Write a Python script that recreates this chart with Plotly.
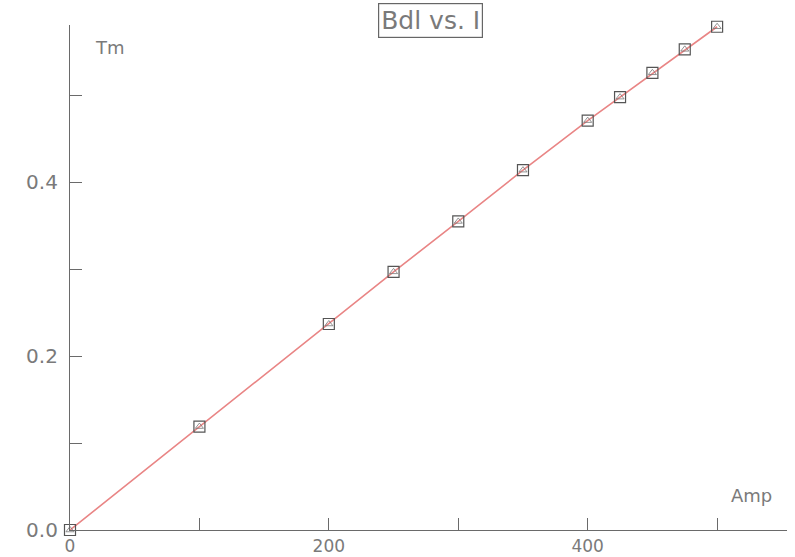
import plotly.graph_objects as go

current_amp = [0, 100, 200, 250, 300, 350, 400, 425, 450, 475, 500]
bdl_tm = [0.0, 0.119, 0.237, 0.297, 0.355, 0.414, 0.471, 0.498, 0.526, 0.553, 0.579]

title_text = "Bdl vs. I"
y_unit = "Tm"
x_unit = "Amp"

AX = "#6a6a6a"
TXT = "#7a7a7a"
FONT = "DejaVu Sans"

fig = go.Figure()
fig.add_trace(go.Scatter(
    x=current_amp, y=bdl_tm, mode="lines", cliponaxis=False,
    line=dict(color="#e98585", width=1.6), hoverinfo="skip", showlegend=False))
fig.add_trace(go.Scatter(
    x=current_amp, y=bdl_tm, mode="markers", cliponaxis=False,
    marker=dict(symbol="square-open", size=11, color="#555555", line=dict(width=1.2)),
    showlegend=False))
fig.add_trace(go.Scatter(
    x=current_amp, y=bdl_tm, mode="markers", cliponaxis=False,
    marker=dict(symbol="triangle-up-open", size=7, color="#777777", line=dict(width=0.8)),
    showlegend=False))

fig.update_layout(
    width=795, height=557,
    margin=dict(l=70, r=8, t=25, b=27),
    paper_bgcolor="white", plot_bgcolor="white",
    font=dict(family=FONT, color=TXT, size=18),
    xaxis=dict(range=[0, 554], showgrid=False, zeroline=False, automargin=False,
               showline=True, linecolor=AX, linewidth=1.2,
               tickmode="array", tickvals=[0, 200, 400], ticktext=["0", "200", "400"],
               ticks="inside", ticklen=12, tickcolor=AX, tickwidth=1,
               minor=dict(dtick=100, tick0=0, ticks="inside", ticklen=12, tickcolor=AX, tickwidth=1, showgrid=False),
               tickfont=dict(size=17, color=TXT, family=FONT), ticklabelstandoff=0),
    yaxis=dict(range=[0, 0.581], showgrid=False, zeroline=False, automargin=False,
               showline=True, linecolor=AX, linewidth=1.2,
               tickmode="array", tickvals=[0.0, 0.2, 0.4], ticktext=["0.0", "0.2", "0.4"],
               ticks="inside", ticklen=12, tickcolor=AX, tickwidth=1,
               minor=dict(dtick=0.1, tick0=0, ticks="inside", ticklen=12, tickcolor=AX, tickwidth=1, showgrid=False),
               tickfont=dict(size=20, color=TXT, family=FONT), ticklabelstandoff=7),
    annotations=[
        dict(text=title_text, xref="paper", yref="paper", x=0.503, y=1.008,
             xanchor="center", yanchor="middle", showarrow=False,
             font=dict(size=25, color=TXT, family=FONT),
             bordercolor="#666666", borderwidth=1.2, borderpad=2),
        dict(text=y_unit, xref="paper", yref="paper", x=(93 - 70) / 717, y=(530 - 47) / 505,
             xanchor="left", yanchor="middle", showarrow=False,
             font=dict(size=18, color=TXT, family=FONT)),
        dict(text=x_unit, xref="paper", yref="paper", x=(774 - 70) / 717, y=(530 - 496) / 505,
             xanchor="right", yanchor="middle", showarrow=False,
             font=dict(size=18, color=TXT, family=FONT)),
    ],
)

fig.write_html("out.html")
